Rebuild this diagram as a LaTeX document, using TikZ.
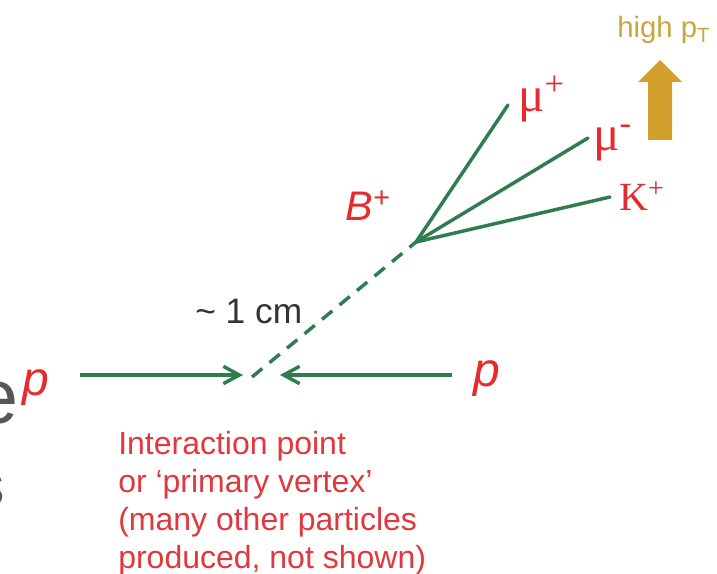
\documentclass[tikz,border=0pt]{standalone}
\usepackage{fontspec}
\setmainfont{Liberation Sans}
\newfontfamily\serifface{Liberation Serif}
\usetikzlibrary{positioning,arrows.meta}
\tikzset{
  track/.style={line width=2.6pt, draw=trackgreen, line cap=round},
  beam/.style={line width=2.6pt, draw=trackgreen, -{Straight Barb[length=12pt,width=13pt]}},
  flight/.style={line width=2.6pt, draw=trackgreen, dash pattern=on 10pt off 7pt},
  plbl/.style={text=hotred, inner sep=0pt, font=\fontsize{36}{40}\selectfont\itshape},
  blbl/.style={text=hotred, inner sep=0pt, font=\fontsize{31}{34}\selectfont\itshape},
  dlbl/.style={text=hotred, inner sep=0pt, font=\fontsize{37}{39}\selectfont\serifface},
  note/.style={text=notered, inner sep=0pt, align=left, font=\fontsize{24}{28.5}\selectfont},
  dist/.style={text=black!80, inner sep=0pt, font=\fontsize{26.5}{28}\selectfont},
  slidetxt/.style={text=slidegrey, inner sep=0pt, font=\fontsize{58}{60}\selectfont},
}
\definecolor{trackgreen}{HTML}{2F7D4E}
\definecolor{hotred}{HTML}{E52B2E}
\definecolor{notered}{HTML}{E0383C}
\definecolor{ptgold}{HTML}{D3A02B}
\definecolor{ptlight}{HTML}{C9A63C}
\definecolor{slidegrey}{HTML}{575757}

\begin{document}
\begin{tikzpicture}[x=0.75pt,y=-0.75pt]
  \useasboundingbox (0,0) rectangle (717,574);
  % bits of the slide behind
  \node[slidetxt, anchor=base east] (slideE) at (19,423) {e};
  \node[slidetxt, anchor=base east, font=\fontsize{44}{46}\selectfont] (slideS) at (5,505) {s};

  % beams and vertices
  \coordinate (beamL) at (80,375);
  \coordinate (tipL) at (243,375);
  \coordinate (beamR) at (452,375);
  \coordinate (tipR) at (280,375);
  \coordinate (pv) at (252,377);
  \coordinate (sv) at (416,242);
  \coordinate (mupEnd) at (508,105);
  \coordinate (mumEnd) at (588,138);
  \coordinate (kpEnd) at (610,197);

  \node[plbl, anchor=base west] (pLeft) at (22,395) {p};
  \node[plbl, anchor=base west] (pRight) at (473,386) {p};
  \draw[beam] (beamL) -- (tipL);
  \draw[beam] (beamR) -- (tipR);
  \draw[flight] (pv) -- (sv);
  \node[dist, anchor=base west] (flen) at (195,323) {\char"007E\ 1 cm};
  \node[blbl, anchor=base west] (bplus) at (345,220) {B\textsuperscript{+}};

  % decay products
  \draw[track] (sv) -- (mupEnd);
  \draw[track] (sv) -- (mumEnd);
  \draw[track] (sv) -- (kpEnd);
  \node[dlbl, anchor=base west] (mup) at (518,112) {μ\raisebox{0.33em}{\fontsize{26}{28}\selectfont+}};
  \node[dlbl, anchor=base west] (mum) at (593,151) {μ\raisebox{0.33em}{\fontsize{26}{28}\selectfont-}};
  \node[dlbl, anchor=base west, font=\fontsize{30}{32}\selectfont\serifface] (kp) at (619,210) {K\textsuperscript{+}};

  % high pT marker
  \node[text=ptlight, inner sep=0pt, anchor=base west, font=\fontsize{22}{24}\selectfont] (hipt) at (617,38) {high p\textsubscript{T}};
  \fill[ptgold] (648,140) -- (648,82) -- (638,82) -- (660,60) -- (682,82) -- (672,82) -- (672,140) -- cycle;

  \node[note, anchor=north west] (ipnote) at (118,431) {Interaction point\\or `primary vertex'\\(many other particles\\produced, not shown)};
\end{tikzpicture}
\end{document}
